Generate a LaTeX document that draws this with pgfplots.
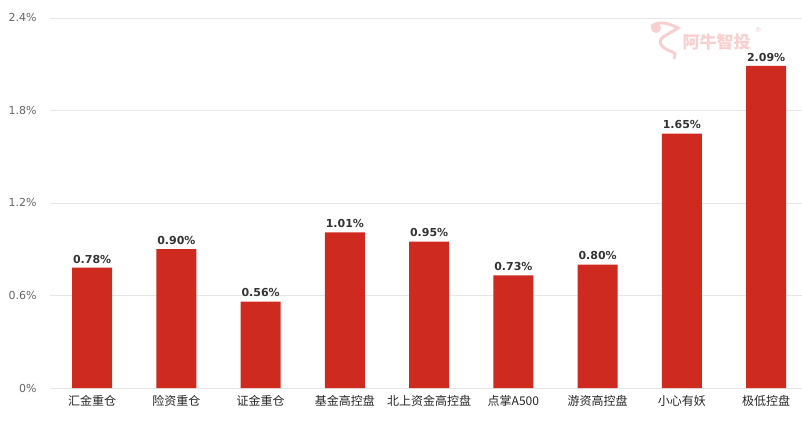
\documentclass[border=0pt]{standalone}
\usepackage{pgfplots}
\pgfplotsset{compat=1.18}
\usepackage{fontspec}
\setmainfont{DejaVu Sans}
\newfontfamily\cjk{Noto Sans CJK SC}
\definecolor{barred}{HTML}{CF2A20}
\definecolor{gridc}{HTML}{E6E6E6}
\definecolor{tickc}{HTML}{666666}
\definecolor{valc}{HTML}{333333}
\definecolor{wm}{HTML}{F8CFCF}
\begin{document}
\begin{tikzpicture}
\begin{axis}[
  at={(0,0)}, anchor=south west,
  scale only axis,
  x=84.25bp, y=154.17bp,
  xmin=-0.5, xmax=8.43,
  ymin=0, ymax=2.4,
  clip=false,
  axis line style={draw=none},
  axis x line*=bottom,
  ytick={0,0.6,1.2,1.8,2.4},
  yticklabels={0\%,0.6\%,1.2\%,1.8\%,2.4\%},
  yticklabel style={font=\fontsize{11bp}{13bp}\selectfont, text=tickc, xshift=-10bp},
  /pgf/number format/assume math mode=true,
  ymajorgrids,
  grid style={gridc, line width=0.8bp},
  major tick length=0pt,
  xtick={0,...,8},
  xticklabels={汇金重仓,险资重仓,证金重仓,基金高控盘,北上资金高控盘,点掌A500,游资高控盘,小心有妖,极低控盘},
  xticklabel style={font=\cjk\fontsize{12bp}{14bp}\selectfont, text=black!85, yshift=-4bp},
  ybar, bar width=0.475,
  nodes near coords,
  nodes near coords style={font=\bfseries\fontsize{11bp}{13bp}\selectfont, text=valc, yshift=1bp},
  point meta=explicit symbolic,
]
\addplot[fill=barred, draw=none] coordinates {
  (0,0.78) [0.78\%]
  (1,0.90) [0.90\%]
  (2,0.56) [0.56\%]
  (3,1.01) [1.01\%]
  (4,0.95) [0.95\%]
  (5,0.73) [0.73\%]
  (6,0.80) [0.80\%]
  (7,1.65) [1.65\%]
  (8,2.09) [2.09\%]
};
\end{axis}
\node[text=wm, font=\cjk\bfseries\fontsize{17bp}{19bp}\selectfont, anchor=west] at (629bp,346bp) {阿牛智投};
\node[text=wm, font=\fontsize{7bp}{8bp}\selectfont] at (708bp,358bp) {®};
\draw[wm, line width=3bp, line cap=round] (602bp,362bp) .. controls (610bp,368bp) and (620bp,364bp) .. (628bp,360bp)
  .. controls (616bp,352bp) and (606bp,350bp) .. (612bp,342bp) .. controls (620bp,334bp) and (628bp,338bp) .. (624bp,330bp);
\fill[wm] (606bp,360bp) circle (5bp);
\pgfresetboundingbox
\path[use as bounding box] (-50bp,-33bp) rectangle (752bp,388bp);
\end{tikzpicture}
\end{document}
